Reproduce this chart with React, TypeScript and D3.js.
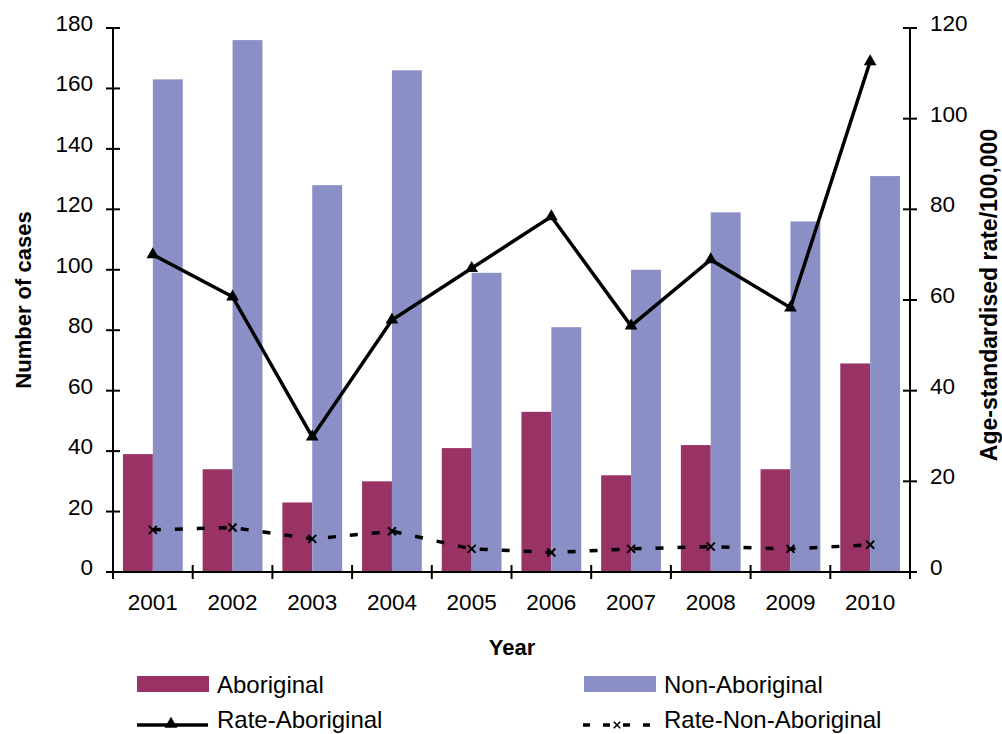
import * as d3 from "d3";
import React, { useEffect, useRef } from "react";

const years = ["2001", "2002", "2003", "2004", "2005", "2006", "2007", "2008", "2009", "2010"];
const aboriginal = [39, 34, 23, 30, 41, 53, 32, 42, 34, 69];
const nonAboriginal = [163, 176, 128, 166, 99, 81, 100, 119, 116, 131];
const rateAboriginal = [70, 60.7, 29.8, 55.6, 67, 78.4, 54.3, 68.9, 58.3, 112.6];
const rateNonAboriginal = [9.3, 9.8, 7.3, 9, 5.1, 4.3, 5.1, 5.6, 5.1, 6];
const leftTicks = [0, 20, 40, 60, 80, 100, 120, 140, 160, 180];
const rightTicks = [0, 20, 40, 60, 80, 100, 120];

const W = 1002;
const H = 734;
const FONT = "'Liberation Sans', Arial, sans-serif";
const ABO = "#993366";
const NON = "#8A8FC6";

function Chart() {
  const ref = useRef<SVGSVGElement | null>(null);

  useEffect(() => {
    const svg = d3.select(ref.current);
    svg.selectAll("*").remove();

    const left = 113, right = 910, top = 28, bottom = 572;

    const x = d3.scaleBand().domain(years).range([left, right]);
    const yL = d3.scaleLinear().domain([0, 180]).range([bottom, top]);
    const yR = d3.scaleLinear().domain([0, 120]).range([bottom, top]);
    const bw = x.bandwidth() * 0.375;
    const cx = (i: number) => (x(years[i]) as number) + x.bandwidth() / 2;

    // bars
    svg.append("g")
      .selectAll("rect")
      .data(aboriginal)
      .enter()
      .append("rect")
      .attr("x", (d, i) => cx(i) - bw)
      .attr("y", (d) => yL(d))
      .attr("width", bw)
      .attr("height", (d) => bottom - yL(d))
      .attr("fill", ABO);

    svg.append("g")
      .selectAll("rect")
      .data(nonAboriginal)
      .enter()
      .append("rect")
      .attr("x", (d, i) => cx(i))
      .attr("y", (d) => yL(d))
      .attr("width", bw)
      .attr("height", (d) => bottom - yL(d))
      .attr("fill", NON);

    // axes
    const axes = svg.append("g").attr("stroke", "#000").attr("stroke-width", 2);
    axes.append("line").attr("x1", left).attr("x2", left).attr("y1", top).attr("y2", bottom);
    axes.append("line").attr("x1", right).attr("x2", right).attr("y1", top).attr("y2", bottom);
    axes.append("line").attr("x1", left - 7).attr("x2", right + 7).attr("y1", bottom).attr("y2", bottom);

    leftTicks.forEach((t) => {
      axes.append("line").attr("x1", left - 7).attr("x2", left + 7).attr("y1", yL(t)).attr("y2", yL(t));
    });
    rightTicks.forEach((t) => {
      axes.append("line").attr("x1", right - 7).attr("x2", right + 7).attr("y1", yR(t)).attr("y2", yR(t));
    });
    years.concat(["end"]).forEach((y, i) => {
      const xx = i < years.length ? (x(y) as number) : right;
      axes.append("line").attr("x1", xx).attr("x2", xx).attr("y1", bottom - 7).attr("y2", bottom + 7);
    });

    const labels = svg.append("g").attr("font-family", FONT).attr("font-size", 22.5).attr("fill", "#000");
    leftTicks.forEach((t) => {
      labels.append("text").attr("x", 93).attr("y", yL(t) + 3).attr("text-anchor", "end").text(t);
    });
    rightTicks.forEach((t) => {
      labels.append("text").attr("x", 930).attr("y", yR(t) + 3).attr("text-anchor", "start").text(t);
    });
    years.forEach((y, i) => {
      labels.append("text").attr("x", cx(i)).attr("y", 610).attr("text-anchor", "middle").text(y);
    });

    // titles
    const titles = svg.append("g").attr("font-family", FONT).attr("font-weight", "bold");
    titles.append("text").attr("font-size", 22).attr("transform", "translate(31,300) rotate(-90)").attr("text-anchor", "middle").text("Number of cases");
    titles.append("text").attr("font-size", 23).attr("transform", "translate(997,295) rotate(-90)").attr("text-anchor", "middle").text("Age-standardised rate/100,000");
    titles.append("text").attr("font-size", 22).attr("x", 512).attr("y", 655).attr("text-anchor", "middle").text("Year");

    // lines
    const lineA = d3.line<number>().x((d, i) => cx(i)).y((d) => yR(d));
    svg.append("path")
      .attr("d", lineA(rateAboriginal))
      .attr("fill", "none")
      .attr("stroke", "#000")
      .attr("stroke-width", 3.5);
    const tri = d3.symbol().type(d3.symbolTriangle).size(70);
    svg.append("g")
      .selectAll("path")
      .data(rateAboriginal)
      .enter()
      .append("path")
      .attr("d", tri() as string)
      .attr("transform", (d, i) => `translate(${cx(i)},${yR(d)})`)
      .attr("fill", "#000");

    svg.append("path")
      .attr("d", lineA(rateNonAboriginal))
      .attr("fill", "none")
      .attr("stroke", "#000")
      .attr("stroke-width", 3.5)
      .attr("stroke-dasharray", "8,14");
    const cross = "M-4,-4L4,4M-4,4L4,-4";
    svg.append("g")
      .selectAll("path")
      .data(rateNonAboriginal)
      .enter()
      .append("path")
      .attr("d", cross)
      .attr("transform", (d, i) => `translate(${cx(i)},${yR(d)})`)
      .attr("stroke", "#000")
      .attr("stroke-width", 2);

    // legend
    const lg = svg.append("g").attr("font-family", FONT).attr("font-size", 24);
    lg.append("rect").attr("x", 137).attr("y", 676).attr("width", 72).attr("height", 16).attr("fill", ABO);
    lg.append("text").attr("x", 217).attr("y", 693).text("Aboriginal");
    lg.append("rect").attr("x", 584).attr("y", 676).attr("width", 72).attr("height", 16).attr("fill", NON);
    lg.append("text").attr("x", 664).attr("y", 693).text("Non-Aboriginal");

    lg.append("line").attr("x1", 137).attr("x2", 208).attr("y1", 725).attr("y2", 725).attr("stroke", "#000").attr("stroke-width", 3.5);
    lg.append("path").attr("d", tri() as string).attr("transform", "translate(171,724)").attr("fill", "#000");
    lg.append("text").attr("x", 217).attr("y", 728).text("Rate-Aboriginal");

    lg.append("line").attr("x1", 583).attr("x2", 656).attr("y1", 725).attr("y2", 725)
      .attr("stroke", "#000").attr("stroke-width", 3.5).attr("stroke-dasharray", "7,13");
    lg.append("path").attr("d", cross).attr("transform", "translate(617,725) scale(0.8)").attr("stroke", "#000").attr("stroke-width", 2);
    lg.append("text").attr("x", 664).attr("y", 728).text("Rate-Non-Aboriginal");
  }, []);

  return (
    <svg
      ref={ref}
      width={W}
      height={H}
      style={{ position: "absolute", left: 0, top: 0, background: "#fff" }}
    />
  );
}

export default function App() {
  return <Chart />;
}
